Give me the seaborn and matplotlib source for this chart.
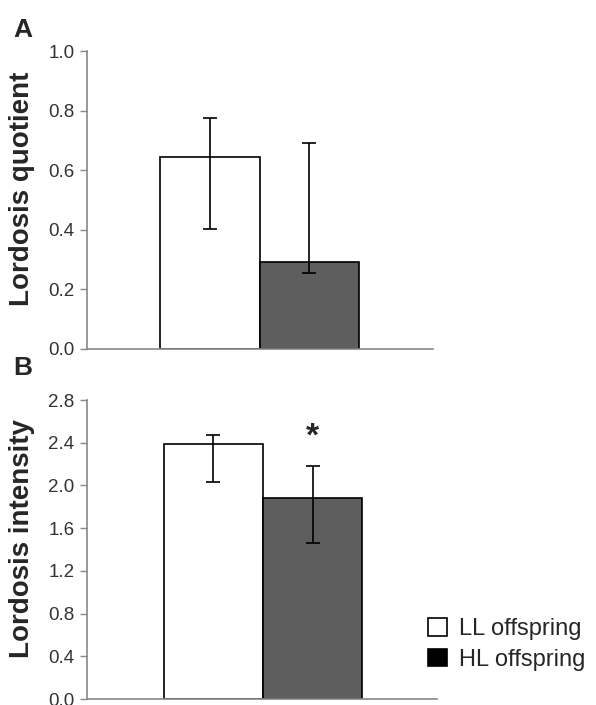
import matplotlib
matplotlib.use("Agg")
import matplotlib.pyplot as plt
import seaborn as sns
import pandas as pd
from matplotlib.patches import Patch

sns.set_style("white")
plt.rcParams['font.family'] = ['Liberation Sans', 'DejaVu Sans']

groups = ["LL offspring", "HL offspring"]
colors = ["#ffffff", "#5e5e5e"]

lq_mean = [0.646, 0.292]
lq_low = [0.402, 0.255]
lq_high = [0.777, 0.691]

li_mean = [2.388, 1.879]
li_low = [2.032, 1.458]
li_high = [2.469, 2.178]

fig = plt.figure(figsize=(5.96, 7.05), dpi=100)
ax1 = fig.add_axes([0.146, 0.505, 0.581, 0.4225])
ax2 = fig.add_axes([0.146, 0.0085, 0.587, 0.424])


def panel(ax, mean, low, high, ylim, ticks, ylabel, xlim, label_y):
    df = pd.DataFrame({"group": groups, "value": mean})
    sns.barplot(data=df, x="group", y="value", hue="group", palette=colors,
                width=1.0, edgecolor="black", linewidth=1.2, legend=False, ax=ax)
    yerr = [[m - l for m, l in zip(mean, low)], [h - m for m, h in zip(mean, high)]]
    ax.errorbar([0, 1], mean, yerr=yerr, fmt="none", ecolor="black",
                elinewidth=1.2, capsize=5, capthick=1.2)
    ax.set_ylim(*ylim)
    ax.set_xlim(*xlim)
    ax.set_yticks(ticks)
    ax.set_yticklabels([f"{t:.1f}" for t in ticks], fontsize=13.5, color="#333333")
    ax.set_xticks([])
    ax.set_xlabel("")
    ax.set_ylabel(ylabel, fontsize=20, fontweight="bold")
    ax.yaxis.set_label_coords(-0.150, label_y)
    for s in ["top", "right"]:
        ax.spines[s].set_visible(False)
    for s in ["left", "bottom"]:
        ax.spines[s].set_color("#888888")
        ax.spines[s].set_linewidth(1.2)
    ax.tick_params(axis="y", left=True, length=5, width=1, color="#888888", pad=4)


panel(ax1, lq_mean, lq_low, lq_high, (0, 1.0), [0.0, 0.2, 0.4, 0.6, 0.8, 1.0],
      "Lordosis quotient", (-1.24, 2.25), 0.537)
panel(ax2, li_mean, li_low, li_high, (0, 2.8), [0.0, 0.4, 0.8, 1.2, 1.6, 2.0, 2.4, 2.8],
      "Lordosis intensity", (-1.27, 2.25), 0.538)

ax2.text(1, 2.456, "*", ha="center", va="center", fontsize=24, fontweight="bold")

fig.text(0.022, 0.957, "A", fontsize=19, fontweight="bold", va="center")
fig.text(0.022, 0.478, "B", fontsize=19, fontweight="bold", va="center")

handles = [Patch(facecolor="white", edgecolor="black", linewidth=1.2),
           Patch(facecolor="black", edgecolor="black", linewidth=1.2)]
fig.legend(handles, groups, loc="center left", bbox_to_anchor=(0.683, 0.086),
           frameon=False, fontsize=17, handlelength=0.78, handleheight=0.78,
           handletextpad=0.5, labelspacing=0.35)

fig.savefig("out.png", dpi=100)
